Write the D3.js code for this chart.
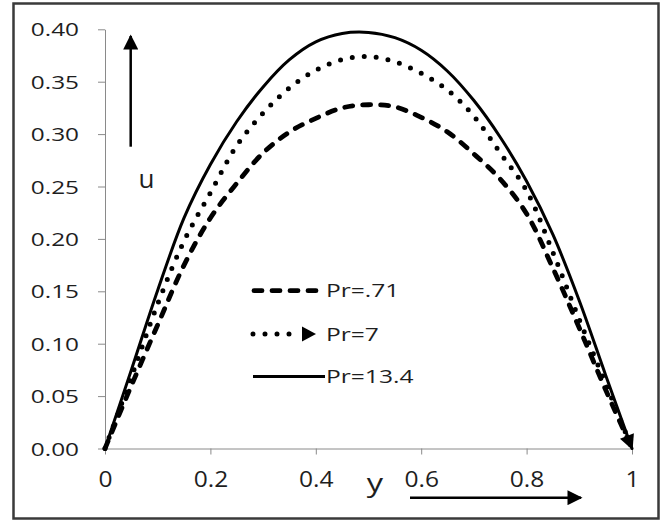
<!DOCTYPE html>
<html><head><meta charset="utf-8">
<script src="https://cdn.jsdelivr.net/npm/d3@7"></script>
<style>body{margin:0;background:#fff}</style>
</head><body>
<svg id="chart" width="669" height="522"></svg>
<script>
// ---- data ----
const yPos   = [0,0.05,0.1,0.15,0.2,0.25,0.3,0.35,0.4,0.45,0.5,0.55,0.6,0.65,0.7,0.75,0.8,0.85,0.9,0.95,1.0];
const pr071  = [0,0.060,0.118,0.175,0.220,0.253,0.282,0.302,0.315,0.325,0.328,0.326,0.316,0.302,0.281,0.257,0.224,0.172,0.115,0.056,0];
const pr7    = [0,0.068,0.138,0.198,0.244,0.289,0.320,0.344,0.361,0.371,0.374,0.369,0.358,0.342,0.317,0.282,0.246,0.187,0.123,0.062,0];
const pr134  = [0,0.075,0.151,0.220,0.271,0.312,0.345,0.371,0.388,0.396,0.397,0.392,0.380,0.360,0.332,0.297,0.255,0.204,0.141,0.070,0];
const seriesNames = ["Pr=.71","Pr=7","Pr=13.4"];
const xTickValues = [0,0.2,0.4,0.6,0.8,1];
const xTickLabels = ["0","0.2","0.4","0.6","0.8","1"];
const uTickValues = [0,0.05,0.1,0.15,0.2,0.25,0.3,0.35,0.4];
const uTickLabels = ["0.00","0.05","0.10","0.15","0.20","0.25","0.30","0.35","0.40"];
const xTitle = "y", yTitle = "u";

// ---- setup ----
const svg = d3.select("#chart");
const FONT = "'Open Sans', 'Liberation Sans', sans-serif";
const TXT = "#1e1e1e";
const AX = "#8a8a8a";

const x = d3.scaleLinear().domain([0,1]).range([105,632]);
const y = d3.scaleLinear().domain([0,0.4]).range([448.5,29.3]);

// outer border
svg.append("rect").attr("x",13.5).attr("y",3.5).attr("width",645).attr("height",515)
  .attr("fill","#fff").attr("stroke","#3a3a3a").attr("stroke-width",2.5);

// y axis
const gy = svg.append("g").attr("transform","translate(105,0)")
  .call(d3.axisLeft(y).tickValues(uTickValues).tickFormat((d,i)=>uTickLabels[i]).tickSize(7).tickSizeOuter(0));
gy.attr("font-size",null).attr("font-family",null);
gy.selectAll("path,line").attr("stroke",AX).attr("stroke-width",1);
gy.selectAll("text").each(function(){
  d3.select(this).attr("x",0).attr("dy",null).attr("y",6.5)
    .attr("transform","translate(-26,0) scale(1.34,1)")
    .attr("text-anchor","end").attr("fill",TXT)
    .style("font-family",FONT).style("font-size","18.2px");
});

// x axis
const gx = svg.append("g").attr("transform","translate(0,448.5)")
  .call(d3.axisBottom(x).tickValues(xTickValues).tickFormat((d,i)=>xTickLabels[i]).tickSize(6).tickSizeOuter(0));
gx.attr("font-size",null).attr("font-family",null);
gx.selectAll("path,line").attr("stroke",AX).attr("stroke-width",1);
gx.selectAll("text").each(function(){
  d3.select(this).attr("y",0).attr("dy",null).attr("x",0)
    .attr("transform","translate(0,38) scale(1.17,1)")
    .attr("text-anchor","middle").attr("fill",TXT)
    .style("font-family",FONT).style("font-size","21px");
});

// markers
const defs = svg.append("defs");
defs.append("marker").attr("id","arrowEnd").attr("markerUnits","userSpaceOnUse")
  .attr("viewBox","0 0 10 10").attr("refX",9).attr("refY",5)
  .attr("markerWidth",17).attr("markerHeight",15).attr("orient","auto")
  .append("path").attr("d","M0,0 L10,5 L0,10 Z").attr("fill","#000");
defs.append("marker").attr("id","arrowAx").attr("markerUnits","userSpaceOnUse")
  .attr("viewBox","0 0 10 10").attr("refX",9).attr("refY",5)
  .attr("markerWidth",17).attr("markerHeight",15).attr("orient","auto")
  .append("path").attr("d","M0,0 L10,5 L0,10 Z").attr("fill","#000");

// series
const line = d3.line().x(d=>x(d[0])).y(d=>y(d[1])).curve(d3.curveCatmullRom.alpha(0.5));
const styles = [
  {data:pr071, width:4.8, dash:"8,10", cap:"round", marker:null},
  {data:pr7,   width:5,   dash:"0,12", cap:"round", marker:"url(#arrowEnd)"},
  {data:pr134, width:3,   dash:null,   cap:"round", marker:null}
];
styles.forEach(s=>{
  const pts = yPos.map((v,i)=>[v,s.data[i]]);
  svg.append("path").attr("d",line(pts)).attr("fill","none").attr("stroke","#000")
    .attr("stroke-width",s.width).attr("stroke-dasharray",s.dash).attr("stroke-linecap",s.cap)
    .attr("stroke-linejoin","round").attr("marker-end",s.marker);
});

// legend
const leg = svg.append("g");
const legRows = [290.7, 334, 376.5];
legRows.forEach((ly,i)=>{
  const st = styles[i];
  if(i===1){
    leg.append("line").attr("x1",253).attr("x2",298).attr("y1",ly).attr("y2",ly)
      .attr("stroke","#000").attr("stroke-width",st.width).attr("stroke-dasharray",st.dash)
      .attr("stroke-linecap","round");
    leg.append("path").attr("d",`M302,${ly-7.5} L316,${ly} L302,${ly+7.5} Z`).attr("fill","#000");
  } else {
    leg.append("line").attr("x1",i===0?254:253).attr("x2",i===0?323:325).attr("y1",ly).attr("y2",ly)
      .attr("stroke","#000").attr("stroke-width",st.width).attr("stroke-dasharray",st.dash)
      .attr("stroke-linecap",i===0?"round":"butt");
  }
  leg.append("text").attr("transform",`translate(326,${ly+6.6}) scale(1.35,1)`)
    .attr("fill",TXT).style("font-family",FONT).style("font-size","18.2px").text(seriesNames[i]);
});

// axis titles and arrows
svg.append("text").attr("transform","translate(146.5,188.3)").attr("text-anchor","middle")
  .attr("fill",TXT).style("font-family",FONT).style("font-size","26px").text(yTitle);
svg.append("line").attr("x1",130.7).attr("x2",130.7).attr("y1",146.7).attr("y2",36)
  .attr("stroke","#000").attr("stroke-width",2.5).attr("marker-end","url(#arrowAx)");
svg.append("text").attr("transform","translate(375,492) scale(1.25,1)").attr("text-anchor","middle")
  .attr("fill",TXT).style("font-family",FONT).style("font-size","26px").text(xTitle);
svg.append("line").attr("x1",410).attr("x2",581).attr("y1",497.7).attr("y2",497.7)
  .attr("stroke","#000").attr("stroke-width",2.5).attr("marker-end","url(#arrowAx)");
</script>
</body></html>
